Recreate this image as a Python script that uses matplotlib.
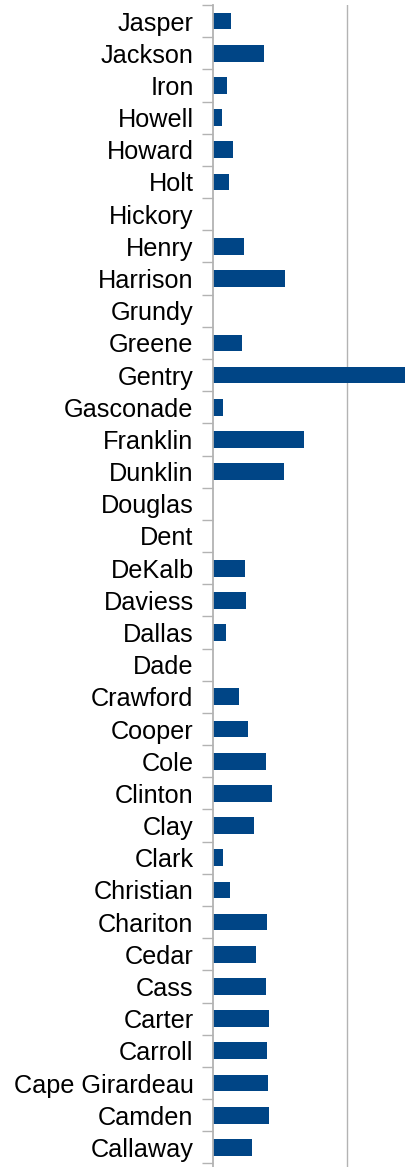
import matplotlib
matplotlib.use("Agg")
import matplotlib.pyplot as plt
import numpy as np

categories = ["Jasper", "Jackson", "Iron", "Howell", "Howard", "Holt", "Hickory",
              "Henry", "Harrison", "Grundy", "Greene", "Gentry", "Gasconade",
              "Franklin", "Dunklin", "Douglas", "Dent", "DeKalb", "Daviess",
              "Dallas", "Dade", "Crawford", "Cooper", "Cole", "Clinton", "Clay",
              "Clark", "Christian", "Chariton", "Cedar", "Cass", "Carter",
              "Carroll", "Cape Girardeau", "Camden", "Callaway"]
values = [1.35, 3.81, 1.05, 0.67, 1.50, 1.20, 0.0,
          2.32, 5.39, 0.0, 2.17, 14.36, 0.75,
          6.81, 5.31, 0.0, 0.0, 2.39, 2.47,
          0.97, 0.0, 1.94, 2.62, 3.96, 4.41, 3.07,
          0.75, 1.27, 4.04, 3.22, 3.96, 4.19,
          4.04, 4.11, 4.19, 2.92]
grid_values = [10]

plt.rcParams['font.family'] = ['Liberation Sans', 'DejaVu Sans']

W, H = 416, 1167
fig = plt.figure(figsize=(W / 100, H / 100), dpi=100)
ax_left = 213 / W
ax_top = 1 - 5 / H
ax = fig.add_axes([ax_left, 0.0, 1 - ax_left, ax_top])

n = len(categories)
ypos = np.arange(n)[::-1]  # first category at top
ax.barh(ypos, values, height=0.52, color="#004586", zorder=3)

ax.set_xlim(0, (W - 213) / 13.37)
ax.set_ylim(-0.61, n - 1 + 0.35)

ax.set_yticks(ypos)
ax.set_yticklabels(categories, fontsize=18.2, color="#000000")
ax.tick_params(axis='y', which='major', length=0, pad=14.0)
ax.set_yticks(np.arange(-0.5, n, 1.0), minor=True)
ax.tick_params(axis='y', which='minor', length=8, width=1.0, color="#b3b3b3", direction='out')

ax.set_xticks(grid_values)
ax.set_xticklabels([])
ax.tick_params(axis='x', length=0)
ax.xaxis.grid(True, color="#b3b3b3", linewidth=1.0)
ax.set_axisbelow(True)

for s in ["top", "right", "bottom"]:
    ax.spines[s].set_visible(False)
ax.spines["left"].set_color("#b3b3b3")
ax.spines["left"].set_linewidth(1.3)
ax.spines["left"].set_zorder(4)

fig.savefig("out.png", dpi=100)
